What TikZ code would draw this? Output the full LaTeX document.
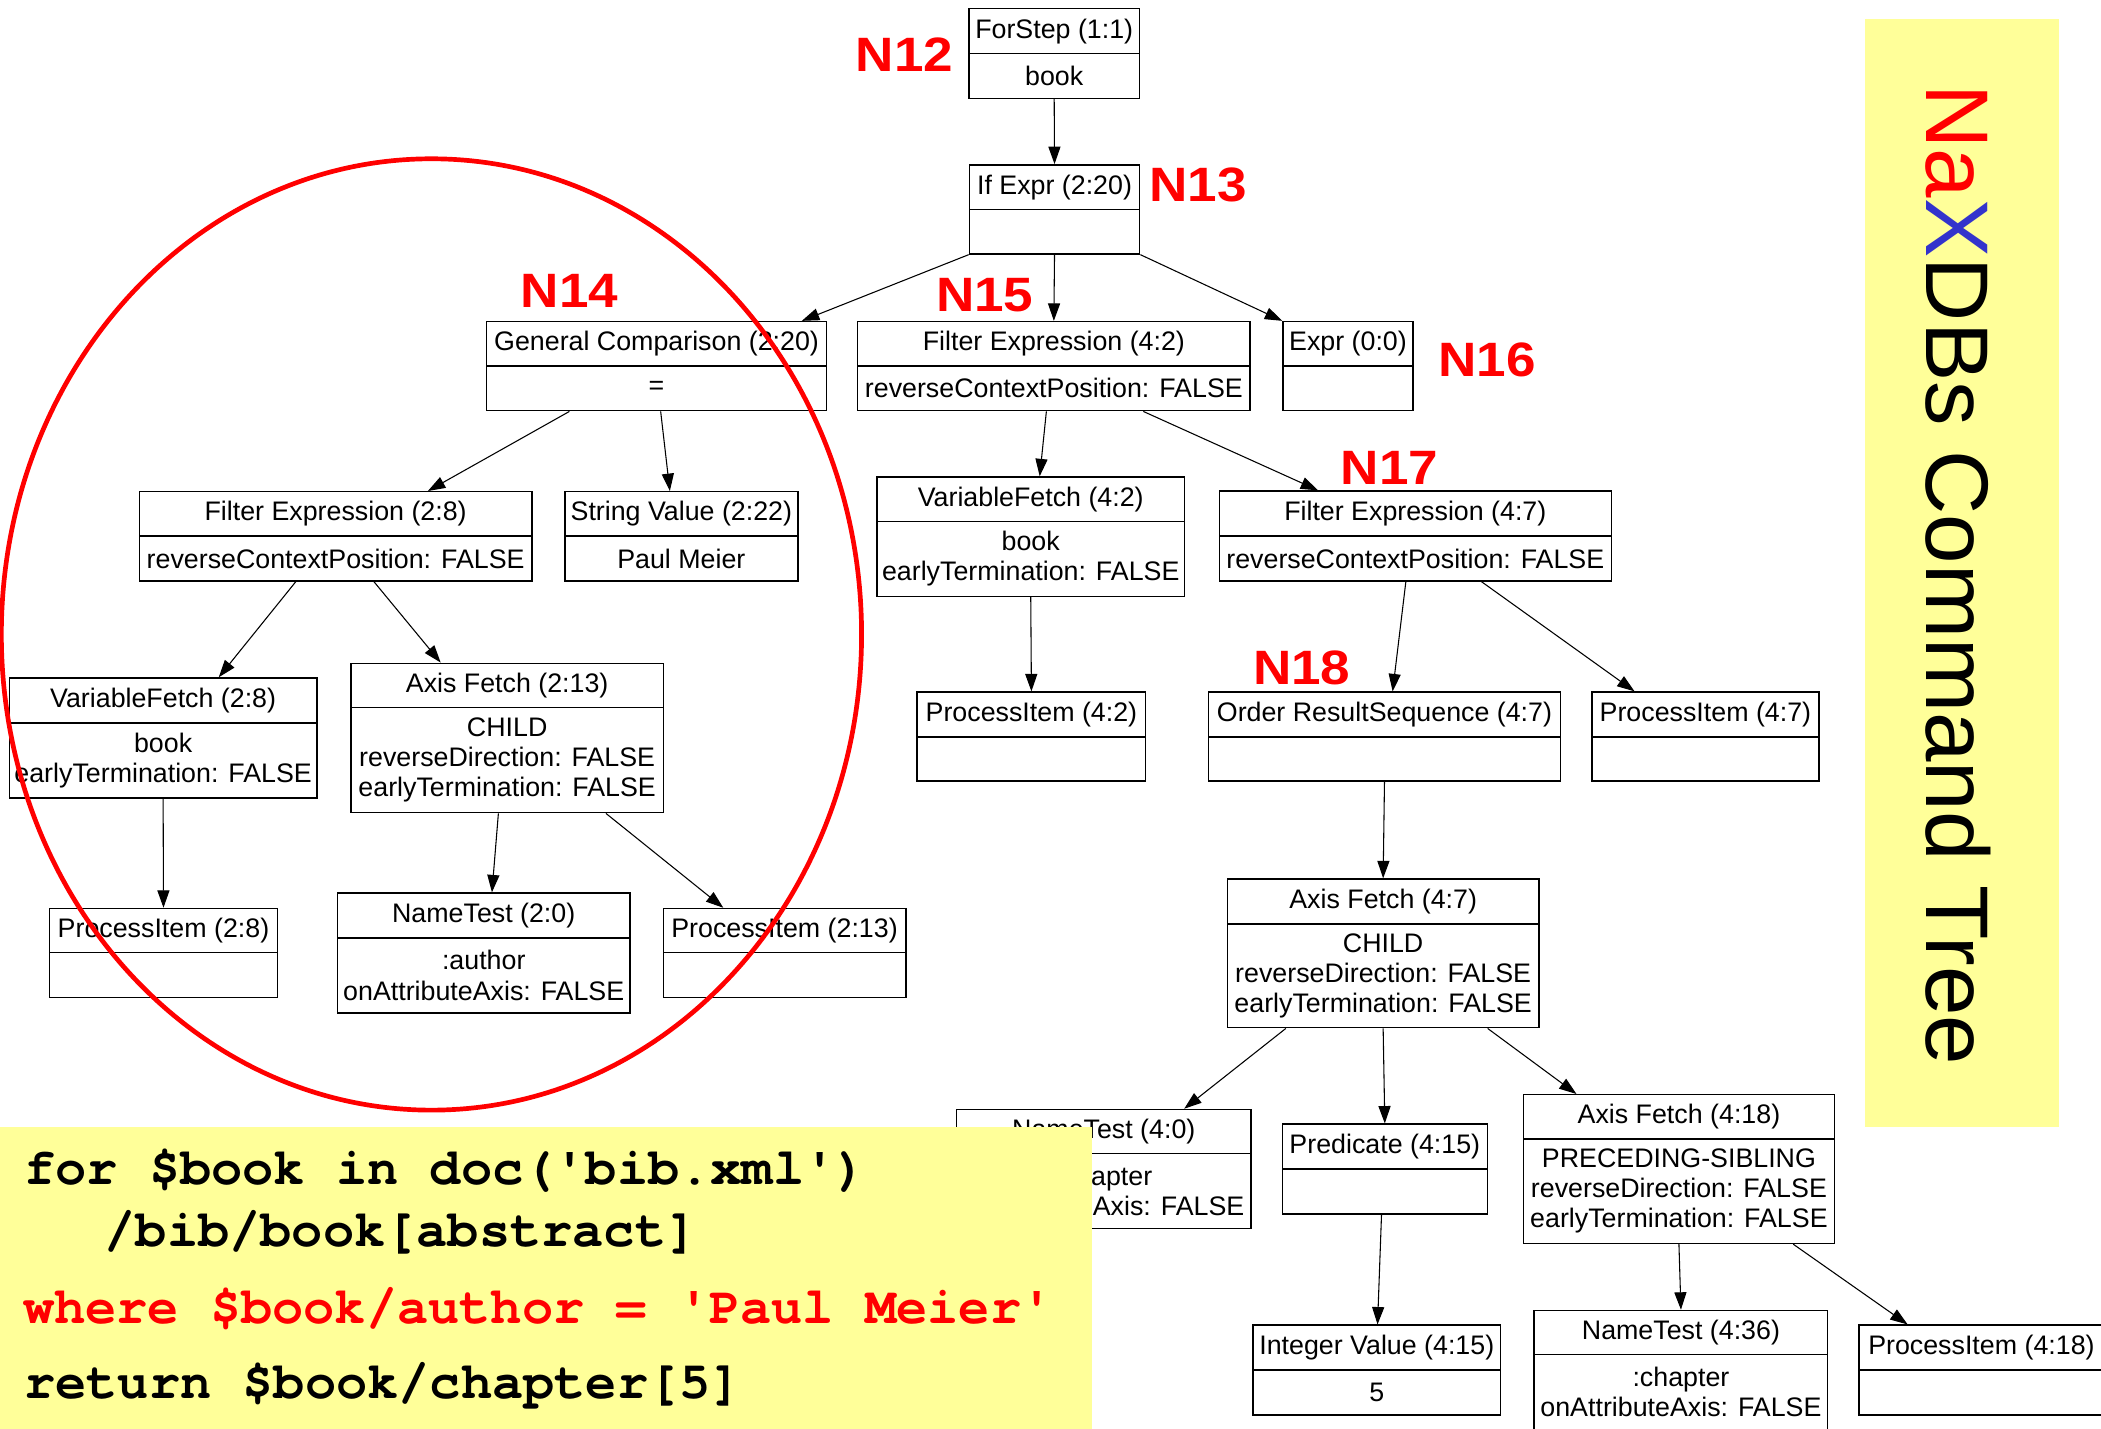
\documentclass[tikz,border=0pt]{standalone}
\usepackage{fontspec}
\setmainfont{Liberation Sans}
\setmonofont{TeX Gyre Cursor}
\newfontfamily\tagfont{Liberation Sans}[FakeStretch=1.1]
\usetikzlibrary{arrows.meta,calc,fit}

\definecolor{notepad}{HTML}{FFFF99}
\definecolor{tagred}{HTML}{FF0000}
\definecolor{xblue}{HTML}{3333CC}

\tikzset{
  cmdframe/.style={draw=black, line width=1.1pt, inner sep=0pt},
  boxtext/.style={font=\fontsize{20}{22.5}\selectfont, inner sep=0pt, align=center},
  treelink/.style={line width=0.8pt, -{Triangle[length=13pt,width=9pt]}},
  ntag/.style={font=\tagfont\bfseries\fontsize{36}{36}\selectfont, text=tagred, inner sep=0pt, anchor=base},
  codeline/.style={font=\ttfamily\bfseries\fontsize{38.8}{40}\selectfont, inner sep=0pt, anchor=base west},
}

% command-tree box: name, left, top, right, divider, bottom, title, body
\newcommand\cmdbox[8]{%
  \node[cmdframe, fit={(#2,#3) (#4,#6)}] (#1) {};
  \draw[line width=1.1pt] (#2,#5) -- (#4,#5);
  \node[boxtext] (#1-title) at ({(#2+#4)/2},{(#3+#5)/2}) {#7};
  \node[boxtext] (#1-body) at ({(#2+#4)/2},{(#5+#6)/2}) {#8};
}
% parent -> child arrow, leaving and entering at given fractions of the edges
\newcommand\treearrow[4]{%
  \draw[treelink] ($(#1.south west)!#2!(#1.south east)$) -- ($(#3.north west)!#4!(#3.north east)$);
}

\begin{document}
\begin{tikzpicture}[x=1pt, y=-1pt]
\useasboundingbox (0,0) rectangle (1568,1066);
\clip (0,0) rectangle (1568,1066);
\fill[white] (0,0) rectangle (1568,1066);

% nodes of the command tree
\cmdbox{fs}{723}{6.5}{850.5}{40}{73.5}{ForStep (1:1)}{book}
\cmdbox{ife}{723.5}{123}{850.5}{156.5}{189.5}{If Expr (2:20)}{}
\cmdbox{gc}{363}{240}{617}{273}{306.5}{General Comparison (2:20)}{=}
\cmdbox{fe42}{640}{240}{933}{273}{306.5}{Filter Expression (4:2)}{reverseContextPosition: FALSE}
\cmdbox{expr}{957.5}{240}{1054.5}{273}{306.5}{Expr (0:0)}{}
\cmdbox{fe28}{104}{367}{397}{400}{433.5}{Filter Expression (2:8)}{reverseContextPosition: FALSE}
\cmdbox{sv}{421.5}{367}{595.5}{400}{433.5}{String Value (2:22)}{Paul Meier}
\cmdbox{vf42}{654.5}{356}{884}{389}{445}{VariableFetch (4:2)}{book\\earlyTermination: FALSE}
\cmdbox{fe47}{910}{366.5}{1202.5}{400}{433.5}{Filter Expression (4:7)}{reverseContextPosition: FALSE}
\cmdbox{vf28}{7}{506}{236.5}{539.5}{595.5}{VariableFetch (2:8)}{book\\earlyTermination: FALSE}
\cmdbox{af213}{262}{495}{495}{528}{606.5}{Axis Fetch (2:13)}{CHILD\\reverseDirection: FALSE\\earlyTermination: FALSE}
\cmdbox{pi42}{684.5}{516.5}{855}{550}{583}{ProcessItem (4:2)}{}
\cmdbox{ors}{902}{516.5}{1164.5}{550}{583}{Order ResultSequence (4:7)}{}
\cmdbox{pi47}{1188}{516.5}{1357.5}{550}{583}{ProcessItem (4:7)}{}
\cmdbox{pi28}{37}{678}{207}{711}{744.5}{ProcessItem (2:8)}{}
\cmdbox{nt20}{252}{666.5}{470}{700}{756}{NameTest (2:0)}{:author\\onAttributeAxis: FALSE}
\cmdbox{pi213}{495}{678}{676}{711}{744.5}{ProcessItem (2:13)}{}
\cmdbox{af47}{916}{656}{1148.5}{689.5}{767}{Axis Fetch (4:7)}{CHILD\\reverseDirection: FALSE\\earlyTermination: FALSE}
\cmdbox{nt40}{714}{828}{933.5}{861}{917}{NameTest (4:0)}{:chapter\\onAttributeAxis: FALSE}
\cmdbox{pred}{957}{839}{1110}{872.5}{906}{Predicate (4:15)}{}
\cmdbox{af418}{1137}{817}{1369}{850}{928}{Axis Fetch (4:18)}{PRECEDING-SIBLING\\reverseDirection: FALSE\\earlyTermination: FALSE}
\cmdbox{iv}{935}{989}{1120}{1022.5}{1056}{Integer Value (4:15)}{5}
\cmdbox{nt436}{1145}{978}{1364}{1011}{1067}{NameTest (4:36)}{:chapter\\onAttributeAxis: FALSE}
\cmdbox{pi418}{1387.5}{989}{1570}{1022.5}{1056}{ProcessItem (4:18)}{}

% parent -> child connectors
\treearrow{fs}{0.5}{ife}{0.5}
\treearrow{ife}{0}{gc}{0.925}
\treearrow{ife}{0.5}{fe42}{0.5}
\treearrow{ife}{1}{expr}{0}
\treearrow{gc}{0.245}{fe28}{0.734}
\treearrow{gc}{0.512}{sv}{0.451}
\treearrow{fe42}{0.481}{vf42}{0.529}
\treearrow{fe42}{0.727}{fe47}{0.253}
\treearrow{fe28}{0.399}{vf28}{0.68}
\treearrow{fe28}{0.597}{af213}{0.288}
\treearrow{vf42}{0.5}{pi42}{0.5}
\treearrow{fe47}{0.476}{ors}{0.523}
\treearrow{fe47}{0.668}{pi47}{0.19}
\treearrow{vf28}{0.5}{pi28}{0.5}
\treearrow{af213}{0.472}{nt20}{0.528}
\treearrow{af213}{0.815}{pi213}{0.249}
\treearrow{ors}{0.5}{af47}{0.5}
\treearrow{af47}{0.189}{nt40}{0.772}
\treearrow{af47}{0.5}{pred}{0.5}
\treearrow{af47}{0.834}{af418}{0.172}
\treearrow{pred}{0.484}{iv}{0.503}
\treearrow{af418}{0.5}{nt436}{0.5}
\treearrow{af418}{0.866}{pi418}{0.2}

% highlight round the where-clause subtree
\draw[tagred, line width=3.5pt] (322,473.5) ellipse [x radius=321pt, y radius=355pt];

% query text
\fill[notepad] (0,841) rectangle (815,1070);
\node[codeline] (q1) at (18,884) {for \$book in doc('bib.xml')};
\node[codeline] (q2) at (78,930) {/bib/book[abstract]};
\node[codeline, text=tagred] (q3) at (17,988) {where \$book/author = 'Paul Meier'};
\node[codeline] (q4) at (18,1044) {return \$book/chapter[5]};

% vertical title
\fill[notepad] (1392,14) rectangle (1537,841);
\node[rotate=-90, anchor=base west, inner sep=0pt, font=\fontsize{66.4}{70}\selectfont] (title) at (1437.5,63)
  {\textcolor{tagred}{Na}\textcolor{xblue}{X}DBs Command Tree};

% node tags
\node[ntag] (n12) at (675,53.5) {N12};
\node[ntag] (n13) at (894,150.5) {N13};
\node[ntag] (n14) at (425,229.5) {N14};
\node[ntag] (n15) at (735,232.5) {N15};
\node[ntag] (n16) at (1110,281) {N16};
\node[ntag] (n17) at (1037,361.5) {N17};
\node[ntag] (n18) at (971.5,510.5) {N18};
\end{tikzpicture}
\end{document}
